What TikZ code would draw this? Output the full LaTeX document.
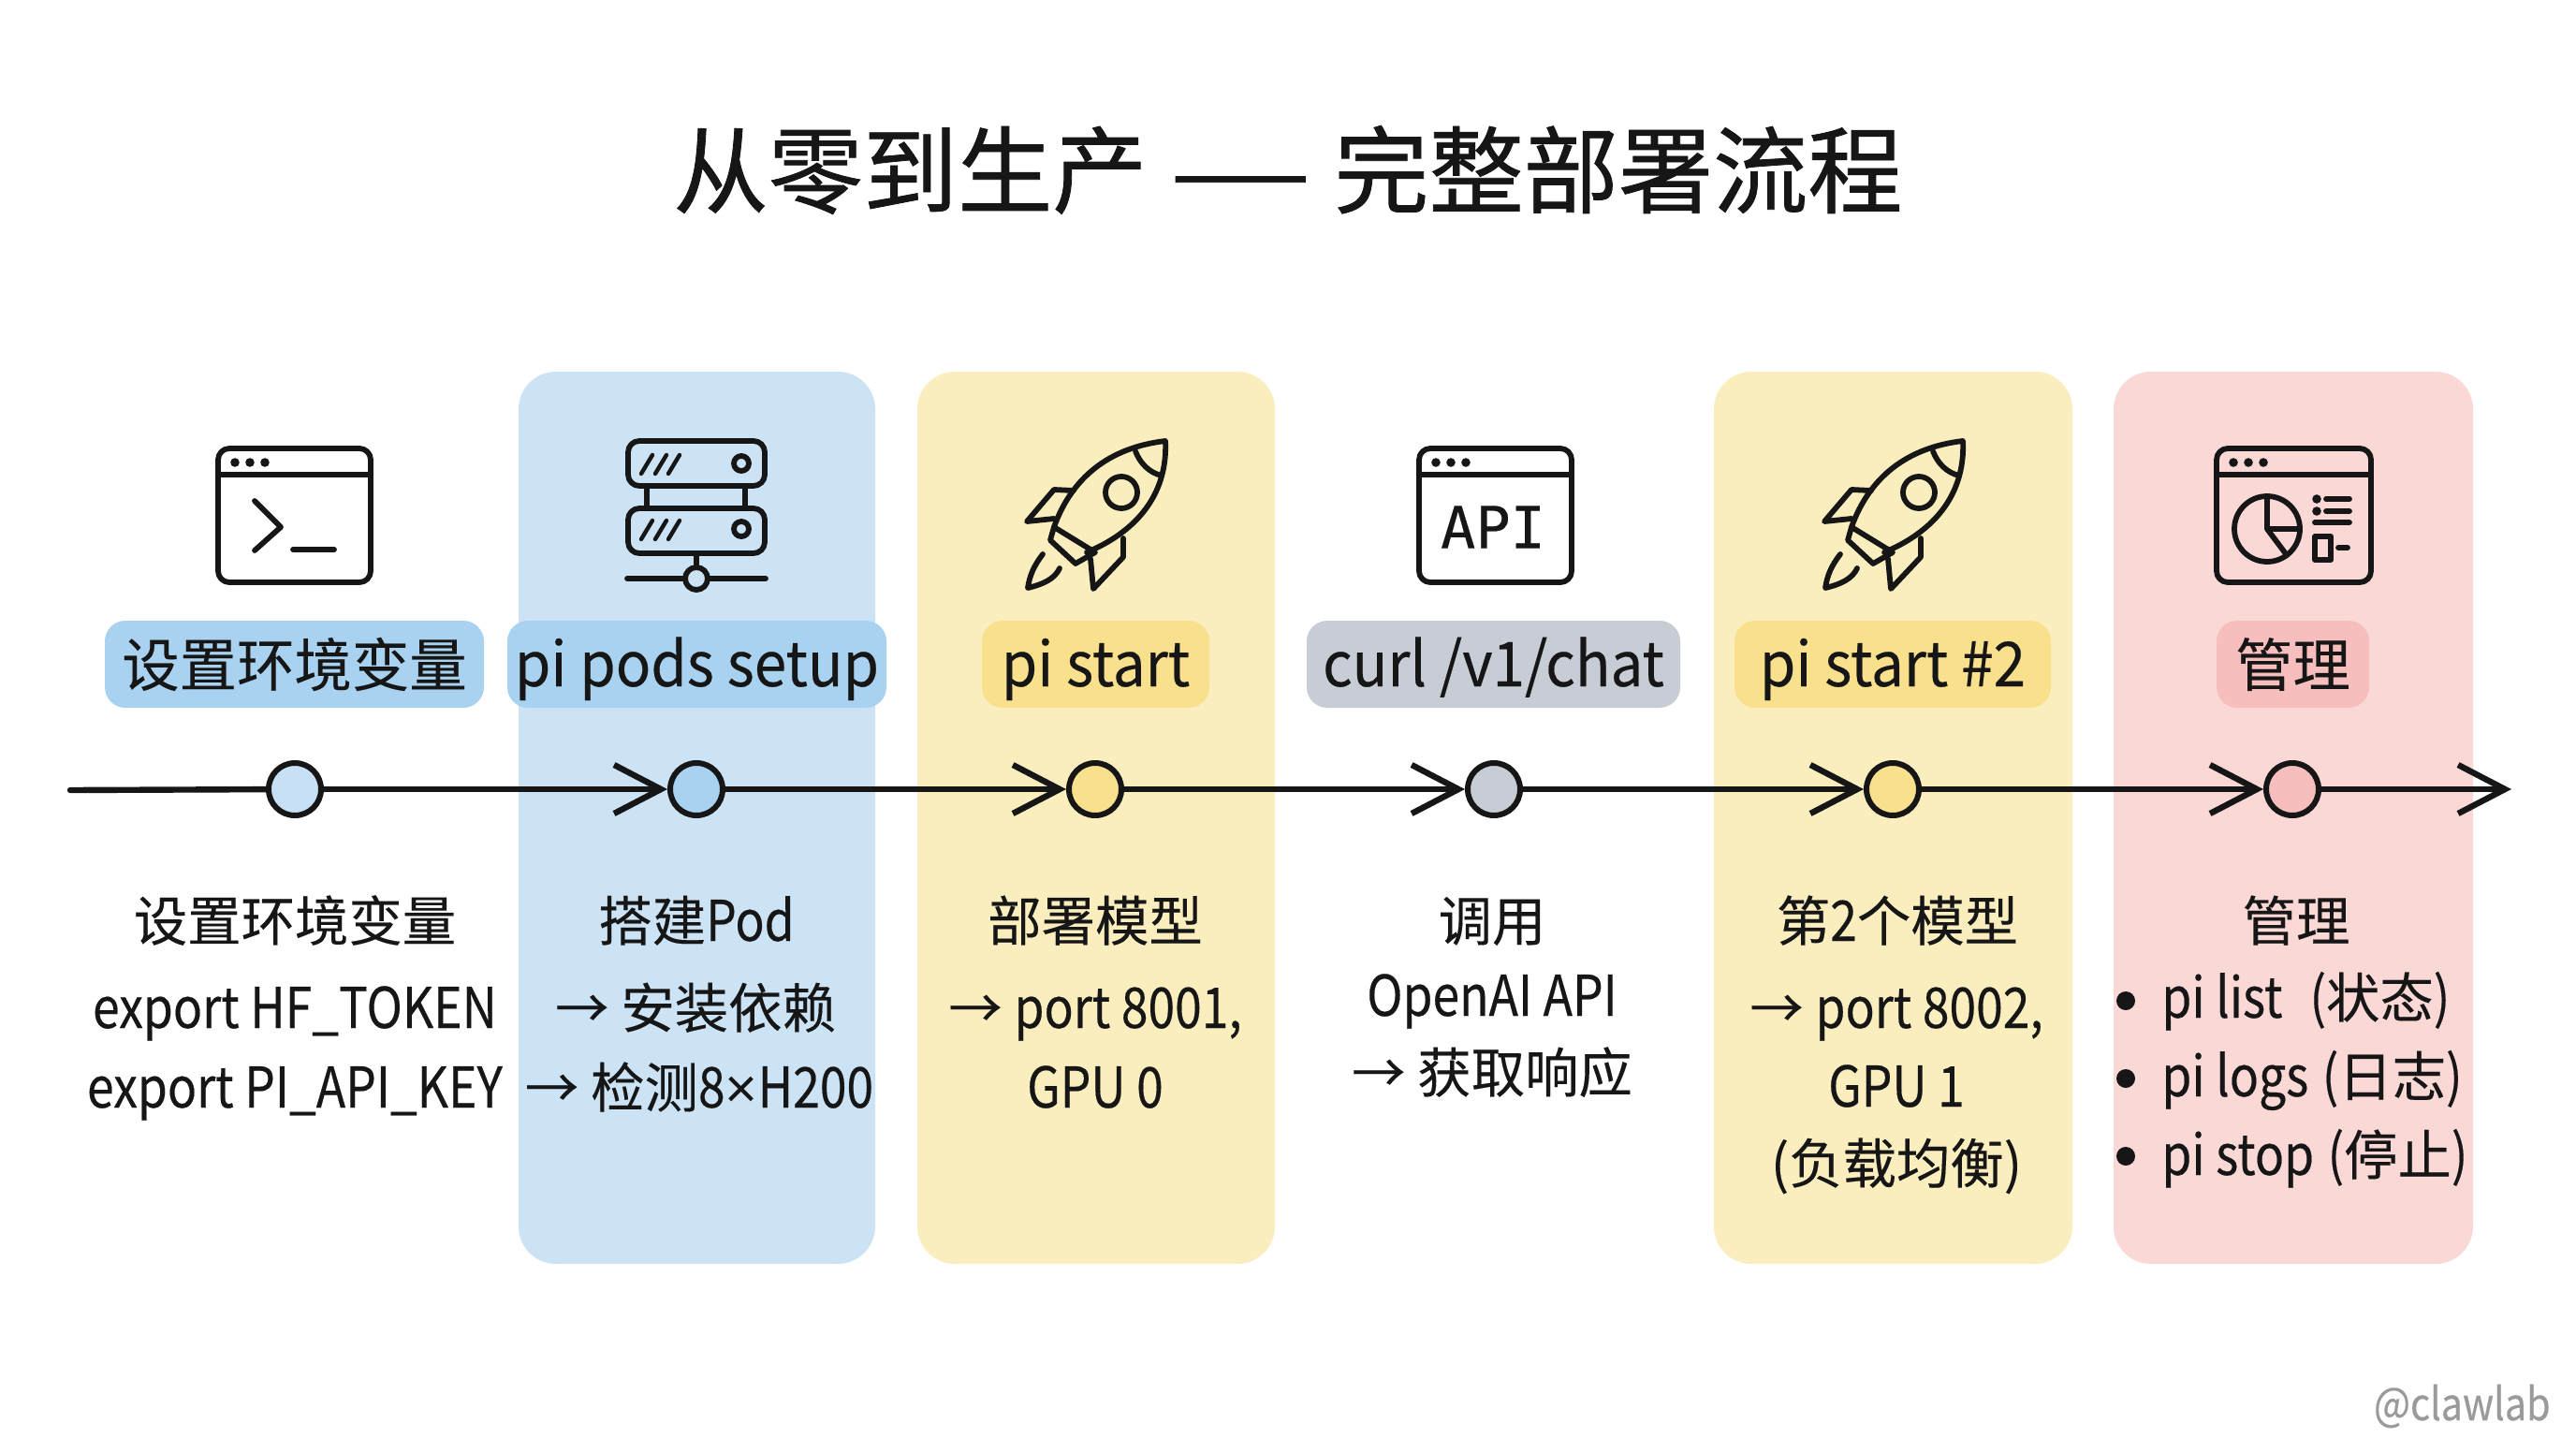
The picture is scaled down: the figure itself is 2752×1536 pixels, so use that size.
\documentclass[tikz,border=0pt]{standalone}
\usepackage{fontspec}
\setmainfont[FakeBold=0.25]{Noto Sans CJK SC}
\newfontfamily\titlefont[FakeBold=0.8]{Noto Sans CJK SC}
\newfontfamily\latfont[FakeStretch=0.86,FakeBold=0.3]{Noto Sans CJK SC}
\newfontfamily\latpill[FakeStretch=0.94,FakeBold=0.3]{Noto Sans CJK SC}
\newfontfamily\apifont[FakeBold=0.3]{DejaVu Sans Mono}
\newfontfamily\crossfont{Liberation Sans}
\newcommand{\ld}[1]{{\fontsize{30}{34}\latfont #1}}
\newcommand{\lp}[1]{{\fontsize{33}{38}\latpill #1}}
\usetikzlibrary{arrows.meta}
\definecolor{bandB}{HTML}{CCE3F5}
\definecolor{bandY}{HTML}{FBEEBE}
\definecolor{bandP}{HTML}{FAD8D6}
\definecolor{pillB}{HTML}{A9D2F0}
\definecolor{pillY}{HTML}{F9E08D}
\definecolor{pillG}{HTML}{C8CDD5}
\definecolor{pillP}{HTML}{F6BFBD}
\definecolor{dotB}{HTML}{C7E0F5}
\definecolor{ink}{HTML}{161616}
\definecolor{mark}{HTML}{9A9A9A}
\tikzset{
  band/.style={rounded corners=20pt},
  pill/.style={rounded corners=11pt,inner sep=0pt,minimum height=46.5pt,text height=30pt,text depth=6.5pt,text=ink,font=\fontsize{30.7}{36}\selectfont,align=center},
  stepdot/.style={circle,draw=ink,line width=3pt,minimum size=28pt,inner sep=0pt},
  lbl/.style={anchor=base,inner sep=0pt,text=ink,font=\fontsize{28.7}{34}\selectfont},
  lbll/.style={anchor=base west,inner sep=0pt,text=ink,font=\fontsize{28.7}{34}\selectfont},
  icon/.style={draw=ink,line width=2.9pt,line cap=round,line join=round},
  flow/.style={draw=ink,line width=3.2pt,line cap=round},
  flowa/.style={flow,-{Straight Barb[length=25pt,width=26pt,line width=3.2pt]}}
}
\newcommand{\mywin}[2]{%
  \draw[icon,rounded corners=6pt] (#1,479) rectangle (#2,622);
  \draw[icon] (#1,507) -- (#2,507);
  \fill[ink] (#1+18,494) circle (2.4pt) (#1+34,494) circle (2.4pt) (#1+50,494) circle (2.4pt);
}
\newcommand{\myrocket}{%
  \draw[icon] (1126,563) .. controls (1145,510) and (1185,478) .. (1245,471)
     .. controls (1247,510) and (1232,560) .. (1161,590);
  \draw[icon] (1213,482) .. controls (1218,495) and (1228,505) .. (1241,508);
  \draw[icon] (1198,526) circle (8.5pt);
  \draw[icon] (1147,524) -- (1126,523) -- (1097,557) -- (1126,554);
  \draw[icon] (1200,575) -- (1200,595) -- (1168,629) -- (1165,597);
  \draw[icon] (1126,563) -- (1122,577) -- (1149,602) -- (1170,590) -- cycle;
  \draw[icon] (1114,592) .. controls (1104,605) and (1100,615) .. (1098,628)
     .. controls (1115,624) and (1127,618) .. (1132,607);
}
\begin{document}
\begin{tikzpicture}[x=0.5pt,y=-0.5pt]
\useasboundingbox[fill=white] (0,0) rectangle (2752,1536);
% bands
\fill[band,bandB] (554,397) rectangle (935,1350);
\fill[band,bandY] (980,397) rectangle (1362,1350);
\fill[band,bandY] (1831,397) rectangle (2214,1350);
\fill[band,bandP] (2258,397) rectangle (2642,1350);
% title
\node[anchor=base,inner sep=0pt,text=ink,font=\fontsize{50.6}{60}\titlefont] (title) at (1376,220) {从零到生产\kern 11.5pt\scalebox{1.7}[1]{—}\kern 11.5pt完整部署流程};
% pills
\node[pill,fill=pillB,minimum width=202.5pt] (p1) at (314.5,709.5) {设置环境变量};
\node[pill,fill=pillB,minimum width=202.5pt] (p2) at (744.5,709.5) {\lp{pi pods setup}};
\node[pill,fill=pillY,minimum width=121.5pt] (p3) at (1170.5,709.5) {\lp{pi start}};
\node[pill,fill=pillG,minimum width=199.5pt] (p4) at (1595.5,709.5) {\lp{curl /v1/chat}};
\node[pill,fill=pillY,minimum width=169pt] (p5) at (2022,709.5) {\lp{pi start \#2}};
\node[pill,fill=pillP,minimum width=81.5pt] (p6) at (2449.5,709.5) {管理};
% flow
\coordinate (start) at (75,844);
\coordinate (finish) at (2683,843);
\node[stepdot,fill=dotB] (n1) at (315,843) {};
\node[stepdot,fill=pillB] (n2) at (744,843) {};
\node[stepdot,fill=pillY] (n3) at (1170,843) {};
\node[stepdot,fill=pillG] (n4) at (1596,843) {};
\node[stepdot,fill=pillY] (n5) at (2022,843) {};
\node[stepdot,fill=pillP] (n6) at (2449,843) {};
\draw[flow] (start) -- (n1);
\draw[flowa] (n1) -- (n2);
\draw[flowa] (n2) -- (n3);
\draw[flowa] (n3) -- (n4);
\draw[flowa] (n4) -- (n5);
\draw[flowa] (n5) -- (n6);
\draw[flowa] (n6) -- (finish);
% icon 1: terminal
\mywin{233}{396}
\draw[icon] (272,535) -- (300,563) -- (272,588);
\draw[icon] (313,587) -- (357,587);
% icon 2: server
\draw[icon,rounded corners=6pt] (671,471) rectangle (817,519);
\draw[icon,rounded corners=6pt] (671,543) rectangle (817,591);
\draw[icon] (691,519) -- (691,543) (796,519) -- (796,543);
\draw[icon] (744,591) -- (744,606);
\draw[icon] (670,618) -- (732,618) (756,618) -- (818,618);
\draw[icon] (744,618) circle (6pt);
\foreach \xx in {691,706,720}{
  \draw[icon,line width=2.2pt] (\xx+6,486) -- (\xx-6,506);
  \draw[icon,line width=2.2pt] (\xx+6,556) -- (\xx-6,576);
}
\draw[icon] (792,495) circle (4pt);
\draw[icon] (792,565) circle (4pt);
% icon 3: rocket
\myrocket
% icon 4: API
\mywin{1516}{1679}
\node[inner sep=0pt,text=ink,font=\fontsize{31}{36}\apifont] (apitxt) at (1595,563) {API};
% icon 5: rocket
\begin{scope}[shift={(852,0)}]
\myrocket
\end{scope}
% icon 6: dashboard
\mywin{2368}{2533}
\draw[icon] (2422,565) circle (17.5pt);
\draw[icon] (2422,530) -- (2422,565) -- (2456,565) (2422,565) -- (2443,593);
\fill[ink] (2475,533) circle (2.4pt) (2475,546) circle (2.4pt);
\draw[icon] (2485,533) -- (2510,533) (2485,546) -- (2510,546) (2473,558) -- (2510,558);
\draw[icon] (2473,573) rectangle (2490,598);
\draw[icon] (2498,585) -- (2508,585);
% descriptions
\node[lbl] (a1) at (315,1005) {设置环境变量};
\node[lbl] (a2) at (315,1098) {\ld{export HF\_TOKEN}};
\node[lbl] (a3) at (315,1183) {\ld{export PI\_API\_KEY}};
\node[lbl] (b1) at (744,1005) {搭建\ld{Pod}};
\node[lbl] (b2) at (743,1098) {→ 安装依赖};
\node[lbl] (b3) at (747,1183) {→ 检测\ld{8{\crossfont×}H200}};
\node[lbl] (c1) at (1170,1005) {部署模型};
\node[lbl] (c2) at (1170,1098) {→ \ld{port 8001,}};
\node[lbl] (c3) at (1170,1183) {\ld{GPU 0}};
\node[lbl] (d1) at (1594,1005) {调用};
\node[lbl] (d2) at (1594,1085) {\ld{OpenAI API}};
\node[lbl] (d3) at (1594,1167) {→ 获取响应};
\node[lbl] (e1) at (2027,1005) {第\ld{2}个模型};
\node[lbl] (e2) at (2026,1098) {→ \ld{port 8002,}};
\node[lbl] (e3) at (2026,1182) {\ld{GPU 1}};
\node[lbl] (e4) at (2026,1264) {(负载均衡)};
\node[lbl] (f1) at (2453,1005) {管理};
\fill[ink] (2271,1069) circle (5pt) (2271,1152) circle (5pt) (2271,1235) circle (5pt);
\node[lbll] (f2) at (2309,1087) {\ld{pi list\ \ \kern 3pt(}状态\ld{)}};
\node[lbll] (f3) at (2309,1171) {\ld{pi logs\kern 1.5pt\ (}日志\ld{)}};
\node[lbll] (f4) at (2309,1255) {\ld{pi stop\kern 1.5pt\ (}停止\ld{)}};
% watermark
\node[anchor=base east,inner sep=0pt,text=mark,font=\fontsize{24}{28}\latfont] (wm) at (2725,1517) {@clawlab};
\end{tikzpicture}
\end{document}
